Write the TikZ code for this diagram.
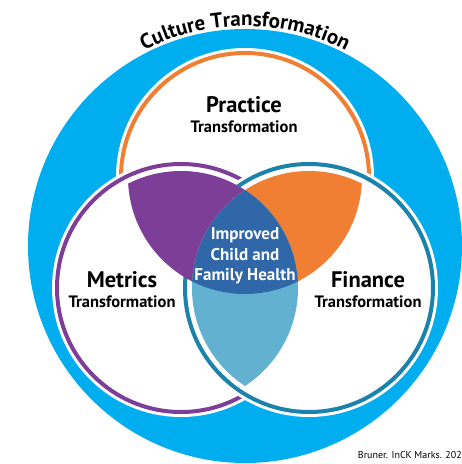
\documentclass[tikz,border=0pt]{standalone}
\usepackage{fontspec}
\setmainfont{PT Sans}
\usepackage{tikz}
\usetikzlibrary{calc, decorations.text}
\definecolor{culture}{RGB}{0,174,239}
\definecolor{practice}{RGB}{240,127,51}
\definecolor{metrics}{RGB}{125,62,152}
\definecolor{finance}{RGB}{27,130,172}
\definecolor{health}{RGB}{47,103,168}
\definecolor{overlap}{RGB}{99,177,209}
\tikzstyle{ring}=[line width=4pt]
\tikzstyle{halo}=[fill=white]
\tikzstyle{area}=[inner sep=0pt, font=\bfseries\fontsize{22.5}{24}\selectfont]
\tikzstyle{sub}=[inner sep=0pt, font=\bfseries\fontsize{16.5}{18}\selectfont]

\begin{document}
\begin{tikzpicture}[x=1pt, y=1pt]
\useasboundingbox (0,0) rectangle (462,464);
\coordinate (C) at (245,218);
\coordinate (P) at (245,287);
\coordinate (M) at (181,176);
\coordinate (F) at (309,176);
\fill[culture] (C) circle (217pt);
\path[decorate, decoration={text along path, text align=center,
  text={|\bfseries\fontsize{21}{21}\selectfont|Culture Transformation}}]
  ($(C)+(126:220pt)$) arc[start angle=126, end angle=54, radius=220pt];
\fill[halo] (P) circle (129pt);
\draw[ring, practice] (P) circle (124pt);
\fill[halo] (M) circle (129pt);
\draw[ring, metrics] (M) circle (124pt);
\fill[halo] (F) circle (129pt);
\draw[ring, finance] (F) circle (124pt);
\begin{scope}
\clip (P) circle (117pt);
\fill[metrics] (M) circle (117pt);
\fill[practice] (F) circle (117pt);
\end{scope}
\begin{scope}
\clip (M) circle (117pt);
\fill[overlap] (F) circle (117pt);
\clip (P) circle (117pt);
\fill[health] (F) circle (117pt);
\end{scope}
\node[area] (practiceA) at (244,359) {Practice};
\node[sub] (practiceB) at (244,337) {Transformation};
\node[area] (metricsA) at (122,184) {Metrics};
\node[sub] (metricsB) at (122,162) {Transformation};
\node[area] (financeA) at (368,184) {Finance};
\node[sub] (financeB) at (368,162) {Transformation};
\node[inner sep=0pt, align=center, text=white, font=\bfseries\fontsize{17}{20.5}\selectfont] (healthA) at (245,208) {Improved\\Child and\\Family Health};
\node[anchor=east, inner sep=0pt, font=\fontsize{10}{10}\selectfont] (credit) at (462,9) {Bruner. InCK Marks. 202};
\end{tikzpicture}
\end{document}
